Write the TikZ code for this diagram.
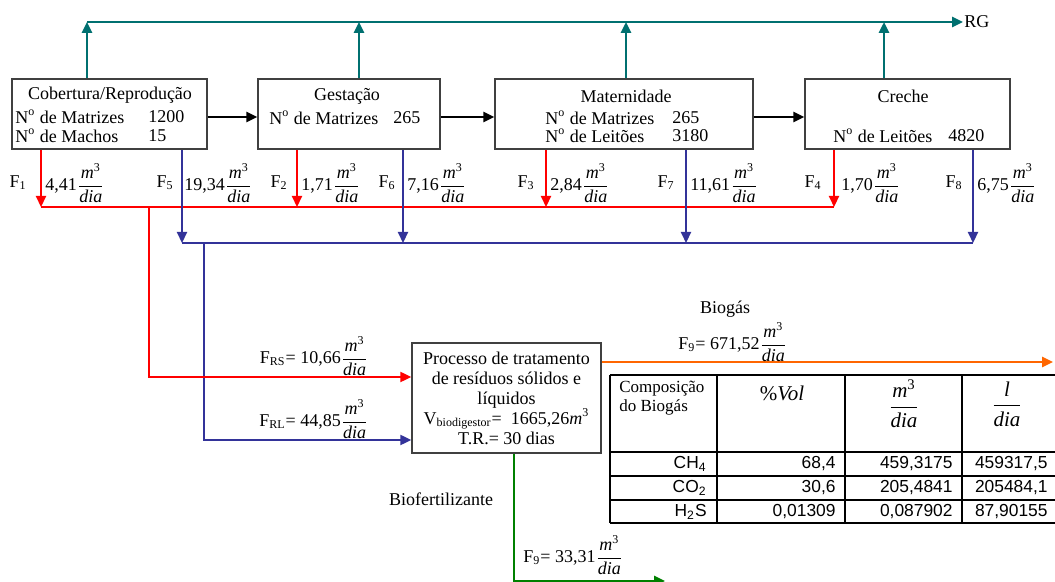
\documentclass[tikz,border=0pt]{standalone}
\usepackage{amsmath}
\usepackage{fontspec}
\setmainfont{Liberation Serif}
\setsansfont{Liberation Sans}
\usetikzlibrary{arrows.meta}
\definecolor{rgteal}{RGB}{0,112,112}
\definecolor{rsred}{RGB}{255,0,0}
\definecolor{rlblue}{RGB}{51,51,153}
\definecolor{gasorange}{RGB}{255,102,0}
\definecolor{biogreen}{RGB}{0,128,0}
\newcommand{\mdia}{\ensuremath{\dfrac{\textit{m}^{\text{3}}}{\textit{dia}}}}
\newcommand{\ldia}{\ensuremath{\dfrac{\textit{l}}{\textit{dia}}}}
\newcommand{\Nro}{N\textsuperscript{o}}

\begin{document}
\begin{tikzpicture}[x=0.5pt,y=-0.5pt,font=\fontsize{9}{10}\selectfont,
    stage/.style={draw=black!75,line width=0.7pt,minimum height=35pt,inner sep=0pt},
    txt/.style={inner sep=0pt},
    tip/.style={-{Triangle[length=5.5pt,width=5pt]}},
    tealflow/.style={rgteal,line width=1.3pt},
    redflow/.style={rsred,line width=1.1pt},
    blueflow/.style={rlblue,line width=1.1pt},
    tabline/.style={black,line width=0.7pt}]
    \useasboundingbox (0,0) rectangle (1055,582);

    % setores da granja
    \node[stage,minimum width=97.5pt] (cob) at (109.5,114) {};
    \node[stage,minimum width=91pt] (ges) at (349,114) {};
    \node[stage,minimum width=129pt] (mat) at (624,114) {};
    \node[stage,minimum width=102.5pt] (cre) at (907.5,114) {};

    \node[txt] (cobT) at (110,95) {Cobertura/Reprodução};
    \node[txt,anchor=west] (cobA) at (15,117) {\Nro\ de Matrizes};
    \node[txt,anchor=west] (cobAn) at (148,117) {1200};
    \node[txt,anchor=west] (cobB) at (15,136) {\Nro\ de Machos};
    \node[txt,anchor=west] (cobBn) at (148,136) {15};

    \node[txt] (gesT) at (347,96) {Gestação};
    \node[txt,anchor=west] (gesA) at (269,118) {\Nro\ de Matrizes};
    \node[txt,anchor=west] (gesAn) at (393,118) {265};

    \node[txt] (matT) at (626,96) {Maternidade};
    \node[txt,anchor=west] (matA) at (545,118) {\Nro\ de Matrizes};
    \node[txt,anchor=west] (matAn) at (672,118) {265};
    \node[txt,anchor=west] (matB) at (545,136) {\Nro\ de Leitões};
    \node[txt,anchor=west] (matBn) at (672,136) {3180};

    \node[txt] (creT) at (903,96) {Creche};
    \node[txt,anchor=west] (creB) at (833,136) {\Nro\ de Leitões};
    \node[txt,anchor=west] (creBn) at (948,136) {4820};

    % biodigestor
    \node[stage,minimum width=94.5pt,minimum height=55pt,align=center] (proc) at (506.5,398)
        {Processo de tratamento\\de resíduos sólidos e\\líquidos\\V\textsubscript{biodigestor}=\ \ 1665,26\textit{m}\textsuperscript{3}\\T.R.= 30 dias};

    % pontos das linhas coletoras
    \coordinate (rg1) at (87,22);
    \coordinate (rg2) at (359,22);
    \coordinate (rg3) at (626,22);
    \coordinate (rg4) at (884,22);
    \coordinate (rgE) at (963,22);
    \coordinate (f1) at (41,207);
    \coordinate (f2) at (297,207);
    \coordinate (f3) at (546,207);
    \coordinate (f4) at (834,207);
    \coordinate (f5) at (182,243);
    \coordinate (f6) at (403,243);
    \coordinate (f7) at (686,243);
    \coordinate (f8) at (973,243);
    \coordinate (rsA) at (149,207);
    \coordinate (rsB) at (149,377);
    \coordinate (rlA) at (204,243);
    \coordinate (rlB) at (204,440);
    \coordinate (bgE) at (1053,362);
    \coordinate (bfA) at (514,581);
    \coordinate (bfE) at (665,581);

    % RG
    \draw[tealflow,tip] (rg1) -- (rgE);
    \node[txt,anchor=west] (rg) at (964,22) {RG};
    \foreach \b/\c in {cob/rg1,ges/rg2,mat/rg3,cre/rg4}
        \draw[tealflow,tip] (\c |- \b.north) -- (\c);

    \path[black,line width=1.3pt,tip]
    ([yshift=-1.5pt]cob.east) edge ([yshift=-1.5pt]ges.west)
    ([yshift=-1.5pt]ges.east) edge ([yshift=-1.5pt]mat.west)
    ([yshift=-1.5pt]mat.east) edge ([yshift=-1.5pt]cre.west);

    % residuos solidos
    \draw[redflow,line width=0.9pt] (f1) -- (f4);
    \foreach \b/\c in {cob/f1,ges/f2,mat/f3,cre/f4}
        \draw[redflow,tip] (\c |- \b.south) -- (\c);

    % residuos liquidos
    \draw[blueflow,line width=0.9pt] (f5) -- (f8);
    \foreach \b/\c in {cob/f5,ges/f6,mat/f7,cre/f8}
        \draw[blueflow,tip] (\c |- \b.south) -- (\c);
    \draw[blueflow,tip] (rlA) -- (rlB) -- (rlB -| proc.west);
    \draw[redflow,tip] (rsA) -- (rsB) -- (rsB -| proc.west);

    % saidas
    \draw[gasorange,line width=1.3pt,tip] (bgE -| proc.east) -- (bgE);
    \draw[biogreen,line width=1.3pt,tip] (bfA |- proc.south) -- (bfA) -- (bfE);

    % vazoes
    \foreach \n/\xf/\xv/\v in {1/27/45/{4,41},5/174/184/{19,34},2/288/301/{1,71},6/396/407/{7,16},
                               3/535/550/{2,84},7/675/690/{11,61},4/822/841/{1,70},8/963/977/{6,75}}{
        \node[txt,anchor=east] (fl\n) at (\xf,183) {F\textsubscript{\n}};
        \node[txt,anchor=west] (fv\n) at (\xv,183) {\v\mdia};
    }
    \node[txt,anchor=east] (rsLab) at (369,356) {F\textsubscript{RS}= 10,66\mdia};
    \node[txt,anchor=east] (rlLab) at (369,419) {F\textsubscript{RL}= 44,85\mdia};
    \node[txt] (gasLab) at (725,309) {Biogás};
    \node[txt,anchor=west] (gasF) at (678,342) {F\textsubscript{9}= 671,52\mdia};
    \node[txt] (bioLab) at (441,499) {Biofertilizante};
    \node[txt,anchor=west] (bioF) at (523,555) {F\textsubscript{9}= 33,31\mdia};

    % composicao do biogas
    \foreach \y in {375,452,476,500,523}
        \draw[tabline] (610,\y) -- (1058,\y);
    \foreach \x in {610,717,845,962}
        \draw[tabline] (\x,375) -- (\x,523);
    \node[txt,anchor=west,align=left,font=\fontsize{8.5}{9.5}\selectfont] (hComp) at (619,398) {Composição\\do Biogás};
    \node[txt,font=\fontsize{10.5}{12}\selectfont] (hVol) at (782,393) {\%\textit{Vol}};
    \node[txt,font=\fontsize{10.5}{12}\selectfont] (hM) at (904,404) {\mdia};
    \node[txt,font=\fontsize{10.5}{12}\selectfont] (hL) at (1007,404) {\ldia};
    \foreach \g/\a/\b/\c [count=\i] in {CH\textsubscript{4}/{68,4}/{459,3175}/{459317,5},
                                        CO\textsubscript{2}/{30,6}/{205,4841}/{205484,1},
                                        H\textsubscript{2}S/{0,01309}/{0,087902}/{87,90155}}{
        \begin{scope}[every node/.style={txt,anchor=east,font=\sffamily\fontsize{8.7}{10}\selectfont}]
            \node (g\i) at (707,440+24*\i) {\g};
            \node (a\i) at (836,440+24*\i) {\a};
            \node (b\i) at (953,440+24*\i) {\b};
            \node (c\i) at (1048,440+24*\i) {\c};
        \end{scope}
    }
\end{tikzpicture}
\end{document}
